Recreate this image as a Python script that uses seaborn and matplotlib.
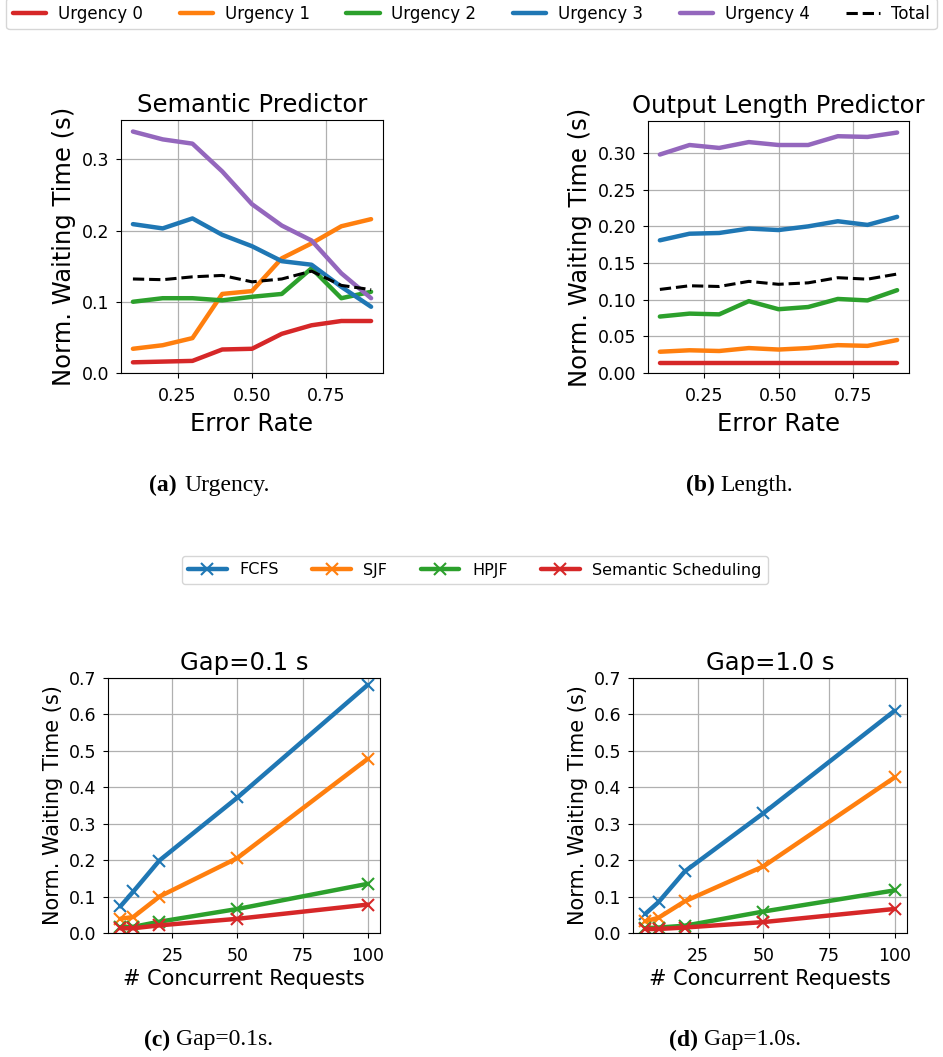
import matplotlib
matplotlib.use("Agg")
import matplotlib.pyplot as plt
import seaborn as sns
import pandas as pd

# ---------------- data ----------------
error_rate = [0.1, 0.2, 0.3, 0.4, 0.5, 0.6, 0.7, 0.8, 0.9]
urgency_labels = ["Urgency 0", "Urgency 1", "Urgency 2", "Urgency 3", "Urgency 4", "Total"]

sem_u0 = [0.015, 0.016, 0.017, 0.033, 0.034, 0.055, 0.067, 0.073, 0.073]
sem_u1 = [0.034, 0.039, 0.049, 0.111, 0.115, 0.161, 0.182, 0.206, 0.216]
sem_u2 = [0.100, 0.105, 0.105, 0.102, 0.107, 0.111, 0.147, 0.105, 0.114]
sem_u3 = [0.209, 0.203, 0.217, 0.194, 0.178, 0.157, 0.152, 0.121, 0.093]
sem_u4 = [0.339, 0.328, 0.322, 0.283, 0.237, 0.207, 0.186, 0.140, 0.105]
sem_total = [0.132, 0.131, 0.135, 0.137, 0.128, 0.132, 0.143, 0.123, 0.117]

len_u0 = [0.013, 0.013, 0.013, 0.013, 0.013, 0.013, 0.013, 0.013, 0.013]
len_u1 = [0.029, 0.031, 0.030, 0.034, 0.032, 0.034, 0.038, 0.037, 0.045]
len_u2 = [0.077, 0.081, 0.080, 0.098, 0.087, 0.090, 0.101, 0.099, 0.113]
len_u3 = [0.181, 0.190, 0.191, 0.197, 0.195, 0.200, 0.207, 0.202, 0.213]
len_u4 = [0.298, 0.311, 0.307, 0.315, 0.311, 0.311, 0.323, 0.322, 0.328]
len_total = [0.114, 0.119, 0.118, 0.125, 0.121, 0.123, 0.130, 0.128, 0.135]

concurrent = [5, 10, 20, 50, 100]
sched_labels = ["FCFS", "SJF", "HPJF", "Semantic Scheduling"]

g01_fcfs = [0.073, 0.114, 0.199, 0.372, 0.681]
g01_sjf = [0.039, 0.044, 0.100, 0.206, 0.478]
g01_hpjf = [0.016, 0.017, 0.031, 0.066, 0.135]
g01_sem = [0.013, 0.013, 0.021, 0.039, 0.078]

g10_fcfs = [0.053, 0.085, 0.169, 0.329, 0.610]
g10_sjf = [0.032, 0.042, 0.087, 0.183, 0.427]
g10_hpjf = [0.013, 0.015, 0.020, 0.059, 0.117]
g10_sem = [0.011, 0.011, 0.015, 0.030, 0.066]

# ---------------- style ----------------
sns.set_style("ticks", {"axes.grid": True, "grid.color": "#b0b0b0",
                        "axes.edgecolor": "black", "text.color": "black",
                        "xtick.color": "black", "ytick.color": "black",
                        "axes.labelcolor": "black"})
plt.rcParams["font.family"] = ["DejaVu Sans"]
plt.rcParams["xtick.direction"] = "out"
plt.rcParams["ytick.direction"] = "out"
plt.rcParams["xtick.major.pad"] = 6.5
plt.rcParams["ytick.major.pad"] = 5
plt.rcParams["xtick.major.size"] = 3.5
plt.rcParams["ytick.major.size"] = 3.5

urg_colors = ["#d62728", "#ff7f0e", "#2ca02c", "#1f77b4", "#9467bd", "black"]
sched_colors = ["#1f77b4", "#ff7f0e", "#2ca02c", "#d62728"]

W, H = 943, 1057
fig = plt.figure(figsize=(W / 100, H / 100), dpi=100)


def rect(l, t, r, b):
    return [l / W, 1 - b / H, (r - l) / W, (b - t) / H]


ax_a = fig.add_axes(rect(121, 120, 383, 373))
ax_b = fig.add_axes(rect(648, 121, 909, 373))
ax_c = fig.add_axes(rect(108, 678, 380, 933))
ax_d = fig.add_axes(rect(633, 678, 907, 933))


def draw_top(ax, series, title):
    for lab, vals, col in zip(urgency_labels, series, urg_colors):
        df = pd.DataFrame({"x": error_rate, "y": vals})
        if lab == "Total":
            sns.lineplot(data=df, x="x", y="y", ax=ax, color=col, lw=2.2,
                         linestyle="--", label=lab, legend=False)
        else:
            sns.lineplot(data=df, x="x", y="y", ax=ax, color=col, lw=3.2,
                         label=lab, legend=False)
    ax.set_ylim(bottom=0)
    ax.set_xticks([0.25, 0.50, 0.75])
    ax.set_xticklabels(["0.25", "0.50", "0.75"])
    ax.set_title(title, fontsize=17.5)
    ax.set_xlabel("Error Rate", fontsize=17.5, labelpad=5)
    ax.set_ylabel("Norm. Waiting Time (s)", fontsize=17.5)
    ax.tick_params(labelsize=12.5)
    ax.grid(True, color="#b0b0b0", lw=0.9)


draw_top(ax_a, [sem_u0, sem_u1, sem_u2, sem_u3, sem_u4, sem_total], "Semantic Predictor")
ax_a.set_yticks([0.0, 0.1, 0.2, 0.3])
draw_top(ax_b, [len_u0, len_u1, len_u2, len_u3, len_u4, len_total], "Output Length Predictor")
ax_b.set_yticks([0.0, 0.05, 0.10, 0.15, 0.20, 0.25, 0.30])
ax_b.set_yticklabels(["0.00", "0.05", "0.10", "0.15", "0.20", "0.25", "0.30"])


def draw_bottom(ax, series, title):
    for lab, vals, col in zip(sched_labels, series, sched_colors):
        df = pd.DataFrame({"x": concurrent, "y": vals})
        sns.lineplot(data=df, x="x", y="y", ax=ax, color=col, lw=3.2,
                     marker="x", markersize=8, markeredgewidth=1.5,
                     markeredgecolor=col, label=lab, legend=False)
    ax.set_ylim(0, 0.7)
    ax.set_yticks([0.0, 0.1, 0.2, 0.3, 0.4, 0.5, 0.6, 0.7])
    ax.set_xticks([25, 50, 75, 100])
    ax.set_title(title, fontsize=17.5)
    ax.set_xlabel("# Concurrent Requests", fontsize=15, labelpad=3)
    ax.set_ylabel("Norm. Waiting Time (s)", fontsize=15)
    ax.tick_params(labelsize=12.5)
    ax.grid(True, color="#b0b0b0", lw=0.9)


draw_bottom(ax_c, [g01_fcfs, g01_sjf, g01_hpjf, g01_sem], "Gap=0.1 s")
draw_bottom(ax_d, [g10_fcfs, g10_sjf, g10_hpjf, g10_sem], "Gap=1.0 s")

# legends
h, l = ax_a.get_legend_handles_labels()
fig.legend(h, l, loc="upper center", bbox_to_anchor=(0.5, 1.002), ncol=6,
           fontsize=12, frameon=True, handlelength=2.0, columnspacing=2.2,
           handletextpad=0.7, borderaxespad=0.0)

h, l = ax_c.get_legend_handles_labels()
fig.legend(h, l, loc="center", bbox_to_anchor=(475 / W, 1 - 570 / H), ncol=4,
           fontsize=11.5, frameon=True, handlelength=2.4, columnspacing=2.1,
           handletextpad=0.8)

# captions
cap_font = "Liberation Serif"
caps = [((177, 485), "(a)", (184, 485), "Urgency."),
        ((715, 485), "(b)", (720, 485), "Length."),
        ((170, 1040), "(c)", (176, 1040), "Gap=0.1s."),
        ((698, 1040), "(d)", (704, 1040), "Gap=1.0s.")]
for (bx, by), bt, (rx, ry), rt in caps:
    fig.text(bx / W, 1 - by / H, bt, ha="right", va="center", fontsize=17,
             family=cap_font, weight="bold")
    fig.text(rx / W, 1 - ry / H, rt, ha="left", va="center", fontsize=17,
             family=cap_font)

fig.savefig("out.png", dpi=100)
